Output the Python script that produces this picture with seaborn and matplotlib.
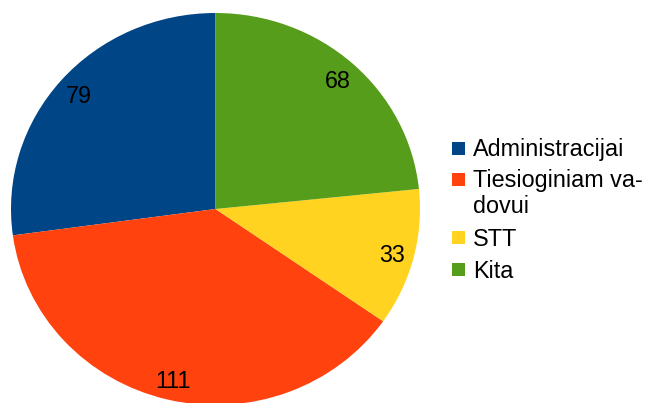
import matplotlib
matplotlib.use("Agg")
import matplotlib.pyplot as plt
import seaborn as sns
from matplotlib.patches import Rectangle

categories = ["Administracijai", "Tiesioginiam va-\ndovui", "STT", "Kita"]
values = [79, 111, 33, 68]
colors = ["#004586", "#ff420e", "#ffd320", "#579d1c"]

sns.set_theme(style="white")
plt.rcParams['font.family'] = ['Liberation Sans', 'DejaVu Sans']

palette = sns.color_palette(colors)
FS = 16.8

fig = plt.figure(figsize=(6.47, 4.03), dpi=100)
W, H = 647, 403
ax = fig.add_axes([11 / W, (H - 405) / H, 409 / W, 392 / H])

wedges, texts, autotexts = ax.pie(
    values, colors=palette, startangle=90, counterclock=True,
    autopct=lambda p: f"{round(p * sum(values) / 100):d}",
    pctdistance=0.89, wedgeprops=dict(linewidth=0),
    textprops=dict(fontsize=FS, color="black"))
for t in autotexts:
    t.set_va('center_baseline')
ax.set_aspect('auto')
ax.set_xlim(-1, 1)
ax.set_ylim(-1, 1)
ax.axis('off')

# legend drawn in pixel layout (square + text rows)
row_baselines = [156, 187, 245.7, 277.7]
line_gap = 26
sq = 13
for label, color, base in zip(categories, palette, row_baselines):
    top = base - 14.5
    fig.patches.append(Rectangle((452 / W, 1 - (top + sq) / H), sq / W, sq / H,
                                 transform=fig.transFigure, facecolor=color,
                                 edgecolor='none'))
    for i, line in enumerate(label.split("\n")):
        fig.text(473 / W, 1 - (base + i * line_gap) / H, line,
                 fontsize=FS, color='black', va='baseline', ha='left')

fig.savefig("out.png", dpi=100)
